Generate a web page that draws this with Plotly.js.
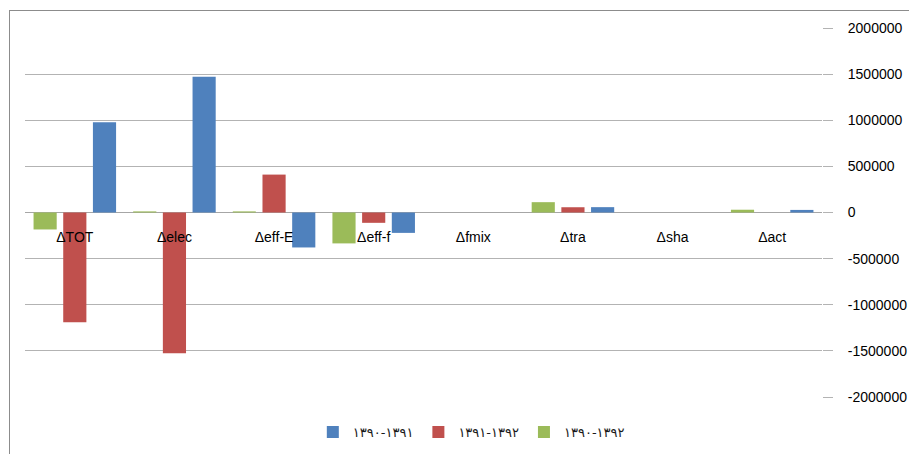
<!DOCTYPE html>
<html>
<head>
<meta charset="utf-8">
<script src="https://cdn.plot.ly/plotly-3.0.1.min.js"></script>
<style>
  html, body { margin: 0; padding: 0; background: #fff; }
  #frame { position: absolute; left: 9px; top: 10px; width: 920px; height: 460px;
           border-left: 1px solid #8c8c8c; border-top: 1px solid #8c8c8c; pointer-events: none; }
  #chart { width: 909px; height: 454px; }
</style>
</head>
<body>
<div id="chart"></div>
<div id="frame"></div>
<script>
const categories = ["ΔTOT", "Δelec", "Δeff-E", "Δeff-f", "Δfmix", "Δtra", "Δsha", "Δact"];
const seriesNames = ["۱۳۹۰-۱۳۹۲", "۱۳۹۱-۱۳۹۲", "۱۳۹۰-۱۳۹۱"];
const v9092 = [-184000, 12000, 12000, -335000, 0, 112000, 0, 30000];
const v9192 = [-1190000, -1527000, 411000, -112000, 0, 57000, 0, 0];
const v9091 = [978000, 1472000, -379000, -221000, 0, 58000, 0, 28000];
const tickVals = [-2000000, -1500000, -1000000, -500000, 0, 500000, 1000000, 1500000, 2000000];

const colors = ["#9BBB59", "#C0504D", "#4F81BD"];
const values = [v9092, v9192, v9091];

const traces = values.map((v, i) => ({
  type: "bar",
  x: categories,
  y: v,
  name: seriesNames[i],
  marker: { color: colors[i], line: { width: 0 } },
  hoverinfo: "x+y+name"
}));

const font = "Liberation Sans, Arial, DejaVu Sans, sans-serif";

const layout = {
  width: 909, height: 454,
  margin: { l: 25, r: 87, t: 28, b: 57, autoexpand: false },
  paper_bgcolor: "#fff", plot_bgcolor: "#fff",
  barmode: "group",
  bargap: 0.106,
  bargroupgap: 0.22,
  font: { family: font, size: 14, color: "#000" },
  showlegend: true,
  legend: {
    orientation: "h", traceorder: "reversed",
    x: 0.56, xanchor: "center", xref: "paper",
    y: -0.095, yanchor: "middle", yref: "paper",
    font: { family: "DejaVu Sans, sans-serif", size: 13, color: "#1a1a1a" },
    itemwidth: 30
  },
  xaxis: {
    type: "category",
    anchor: "free", position: 0.5,
    showgrid: false, zeroline: false, showline: false,
    ticks: "outside", ticklen: 12, tickcolor: "rgba(0,0,0,0)",
    tickfont: { family: font, size: 14, color: "#000" },
    layer: "above traces",
    range: [-0.5, 7.5]
  },
  yaxis: {
    side: "right",
    range: [-2000000, 2000000],
    tickmode: "array", tickvals: tickVals,
    ticktext: tickVals.map(String),
    showgrid: true, gridcolor: "#b3b3b3", gridwidth: 1,
    zeroline: true, zerolinecolor: "#a6a6a6", zerolinewidth: 1.5,
    showline: false,
    ticks: "outside", ticklen: 10, tickcolor: "#b3b3b3",
    tickfont: { family: font, size: 14, color: "#000" },
    ticklabelstandoff: 12
  }
};

Plotly.newPlot("chart", traces, layout, { displayModeBar: false, staticPlot: true });
</script>
</body>
</html>
